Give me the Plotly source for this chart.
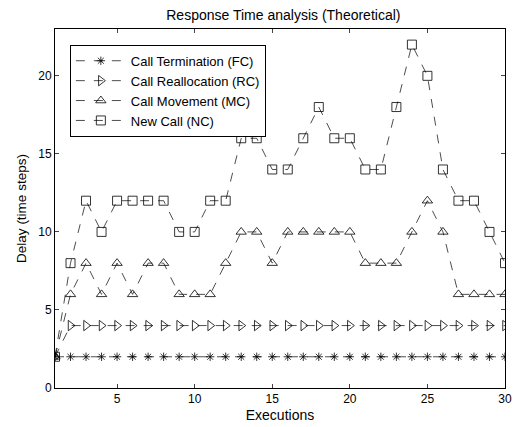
import plotly.graph_objects as go

executions = list(range(1, 31))
fc = [2] * 30
rc = [2] + [4] * 29
mc = [2, 6, 8, 6, 8, 6, 8, 8, 6, 6, 6, 8, 10, 10, 8, 10, 10, 10, 10, 10,
      8, 8, 8, 10, 12, 10, 6, 6, 6, 6]
nc = [2, 8, 12, 10, 12, 12, 12, 12, 10, 10, 12, 12, 16, 16, 14, 14, 16, 18, 16, 16,
      14, 14, 18, 22, 20, 14, 12, 12, 10, 8]

series = [
    ("Call Termination (FC)", fc, "asterisk-open", 7),
    ("Call Reallocation (RC)", rc, "triangle-right-open", 9),
    ("Call Movement (MC)", mc, "triangle-up-open", 9),
    ("New Call (NC)", nc, "square-open", 9),
]

fig = go.Figure()
for name, vals, sym, sz in series:
    fig.add_trace(go.Scatter(
        x=executions, y=vals, name=name, mode="lines+markers",
        line=dict(color="black", width=0.7, dash="dash"),
        marker=dict(symbol=sym, size=sz, color="black", line=dict(color="black", width=0.8)),
    ))

font = "Liberation Sans, Arial, sans-serif"
fig.update_layout(
    width=519, height=427,
    margin=dict(l=55, r=7, t=29, b=38),
    paper_bgcolor="white", plot_bgcolor="white",
    font=dict(family=font, size=12, color="black"),
    title=dict(text="Response Time analysis (Theoretical)", x=0.546, xanchor="center",
               y=0.965, yanchor="middle", font=dict(size=14)),
    showlegend=True,
    legend=dict(x=0.033, y=0.956, xanchor="left", yanchor="top",
                bordercolor="black", borderwidth=1, bgcolor="white",
                font=dict(size=13), tracegroupgap=0, itemwidth=50),
)
fig.update_xaxes(range=[1, 30], tickvals=[5, 10, 15, 20, 25, 30], ticks="inside",
                 ticklen=4, showline=True, linecolor="black", linewidth=1, mirror="ticks",
                 showgrid=False, zeroline=False, tickfont=dict(size=12),
                 title=dict(text="Executions", standoff=4, font=dict(size=14)))
fig.update_yaxes(range=[0, 23], tickvals=[0, 5, 10, 15, 20], ticks="inside",
                 ticklen=4, showline=True, linecolor="black", linewidth=1, mirror="ticks",
                 showgrid=False, zeroline=False, tickfont=dict(size=12),
                 title=dict(text="Delay (time steps)", standoff=8, font=dict(size=13.5)))

fig.write_html("out.html")
